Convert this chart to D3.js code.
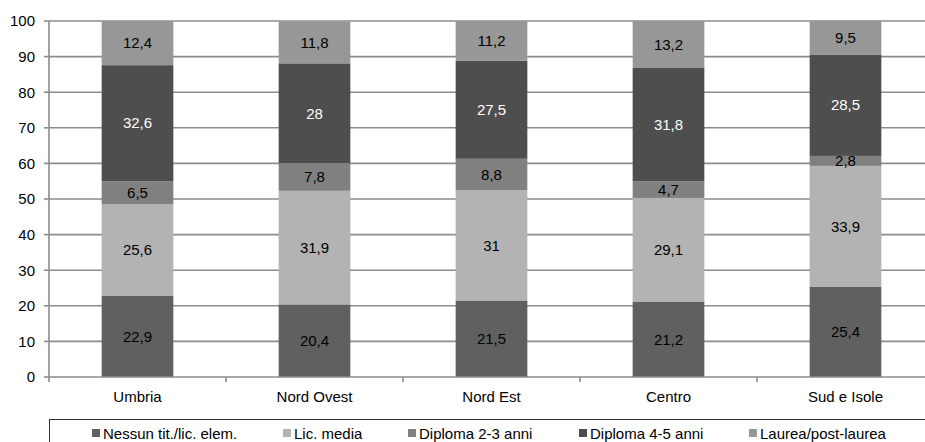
<!DOCTYPE html>
<html><head><meta charset="utf-8">
<script src="https://cdn.jsdelivr.net/npm/d3@7"></script>
<style>body{margin:0;background:#fff}svg{display:block;font-family:"Liberation Sans",Arial,sans-serif}</style>
</head><body><svg id="c" width="925" height="442"></svg>
<script>
const categories = ["Umbria","Nord Ovest","Nord Est","Centro","Sud e Isole"];
const seriesNames = ["Nessun tit./lic. elem.","Lic. media","Diploma 2-3 anni","Diploma 4-5 anni","Laurea/post-laurea"];
const nessun = [22.9,20.4,21.5,21.2,25.4];
const licMedia = [25.6,31.9,31,29.1,33.9];
const dipl23 = [6.5,7.8,8.8,4.7,2.8];
const dipl45 = [32.6,28,27.5,31.8,28.5];
const laurea = [12.4,11.8,11.2,13.2,9.5];
const yTicks = [0,10,20,30,40,50,60,70,80,90,100];
const colors = ["#606060","#b3b3b3","#808080","#4e4e4e","#979797"];
const labelColors = ["#000","#000","#000","#fff","#000"];

const seriesVals = [nessun,licMedia,dipl23,dipl45,laurea];
const rows = categories.map((c,i)=>{const o={cat:c};seriesNames.forEach((s,j)=>o[s]=seriesVals[j][i]);return o;});
const stack = d3.stack().keys(seriesNames)(rows);

const svg = d3.select("#c");
const L=49, R=934, T=21, B=377;
const FS = 15;
const x = d3.scaleBand().domain(categories).range([L,R]).paddingInner(0).paddingOuter(0);
const y = d3.scaleLinear().domain([0,100]).range([B,T]);
const bw = x.bandwidth()*0.405;
const fmt = v => String(v).replace(".",",");

// gridlines
svg.append("g").selectAll("line").data(yTicks.filter(t=>t>0)).join("line")
  .attr("x1",L).attr("x2",R).attr("y1",d=>y(d)).attr("y2",d=>y(d))
  .attr("stroke","#8c8c8c").attr("stroke-width",1.6);

// bars
const g = svg.append("g");
stack.forEach((s,si)=>{
  g.append("g").selectAll("rect").data(s).join("rect")
    .attr("x",d=>x(d.data.cat)+x.bandwidth()/2-bw/2)
    .attr("width",bw)
    .attr("y",d=>y(d[1])).attr("height",d=>y(d[0])-y(d[1]))
    .attr("fill",colors[si]);
  g.append("g").selectAll("text").data(s).join("text")
    .attr("x",d=>x(d.data.cat)+x.bandwidth()/2)
    .attr("y",d=>(y(d[0])+y(d[1]))/2+5.3)
    .attr("text-anchor","middle").attr("font-size",FS)
    .attr("fill",labelColors[si]).text(d=>fmt(d.data[seriesNames[si]]));
});

// y axis
const yAxis = svg.append("g");
yAxis.append("line").attr("x1",L).attr("x2",L).attr("y1",T).attr("y2",B).attr("stroke","#8c8c8c").attr("stroke-width",1.6);
yAxis.selectAll("line.t").data(yTicks).join("line").attr("class","t")
  .attr("x1",L-5).attr("x2",L).attr("y1",d=>y(d)).attr("y2",d=>y(d)).attr("stroke","#8c8c8c").attr("stroke-width",1.6);
yAxis.selectAll("text").data(yTicks).join("text")
  .attr("x",35).attr("y",d=>y(d)+5.3).attr("text-anchor","end").attr("font-size",FS).attr("fill","#000").text(d=>d);

// x axis
const xAxis = svg.append("g");
xAxis.append("line").attr("x1",L).attr("x2",R).attr("y1",B).attr("y2",B).attr("stroke","#8c8c8c").attr("stroke-width",1.6);
const bounds = categories.map(c=>x(c)).concat([R]);
xAxis.selectAll("line.t").data(bounds).join("line").attr("class","t")
  .attr("x1",d=>d).attr("x2",d=>d).attr("y1",B).attr("y2",B+5).attr("stroke","#8c8c8c").attr("stroke-width",1.6);
xAxis.selectAll("text").data(categories).join("text")
  .attr("x",d=>x(d)+x.bandwidth()/2).attr("y",402).attr("text-anchor","middle").attr("font-size",FS).attr("fill","#000").text(d=>d);

// legend
const lg = svg.append("g");
lg.append("rect").attr("x",49.5).attr("y",419.5).attr("width",900).attr("height",40).attr("fill","none").attr("stroke","#333").attr("stroke-width",1);
const legX = [92,283,408,579,749];
seriesNames.forEach((s,i)=>{
  lg.append("rect").attr("x",legX[i]).attr("y",429).attr("width",8).attr("height",8).attr("fill",colors[i]);
  lg.append("text").attr("x",legX[i]+11).attr("y",438.5).attr("font-size",FS).attr("fill","#000").text(s);
});
</script></body></html>
